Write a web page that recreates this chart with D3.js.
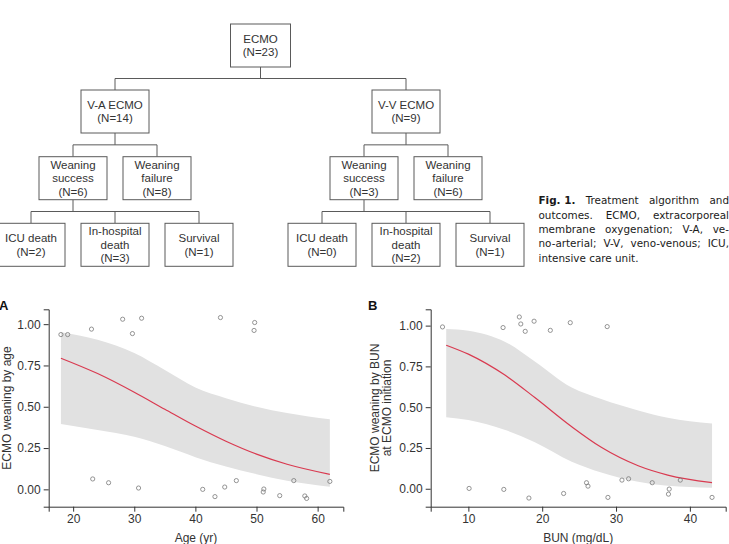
<!DOCTYPE html>
<html>
<head>
<meta charset="utf-8">
<script src="https://cdn.jsdelivr.net/npm/d3@7"></script>
<style>
  body { margin: 0; background: #fff; }
  svg { display: block; }
</style>
</head>
<body>
<svg id="fig" width="729" height="544"></svg>
<script>
// Treatment tree
var totalN = 23;
var modes = ["V-A ECMO", "V-V ECMO"];
var modeN = [14, 9];
var weanLabels = [["Weaning", "success"], ["Weaning", "failure"]];
var weanN = [[6, 8], [3, 6]];
var outcomeLabels = [["ICU death"], ["In-hospital", "death"], ["Survival"]];
var outcomeN = [[2, 3, 1], [0, 2, 1]];

// Caption (justified lines)
var captionLines = [
  [["Fig. 1.", true], ["Treatment", false], ["algorithm", false], ["and", false]],
  [["outcomes.", false], ["ECMO,", false], ["extracorporeal", false]],
  [["membrane", false], ["oxygenation;", false], ["V-A,", false], ["ve-", false]],
  [["no-arterial;", false], ["V-V,", false], ["veno-venous;", false], ["ICU,", false]],
  [["intensive", false], ["care", false], ["unit.", false]]
];

// Panel A: age
var ageTicks = [20, 30, 40, 50, 60];
var ageGrid = [18, 24, 30, 35, 40, 45, 50, 55, 62];
var ageFit  = [0.794, 0.701, 0.588, 0.485, 0.383, 0.291, 0.213, 0.152, 0.091];
var ageLo   = [0.396, 0.360, 0.318, 0.262, 0.195, 0.138, 0.092, 0.052, 0.016];
var ageHi   = [0.951, 0.905, 0.825, 0.722, 0.617, 0.552, 0.500, 0.462, 0.424];
var agePtX = [18.0, 19.1, 23.0, 28.1, 29.7, 31.2, 44.1, 49.7, 49.6,
              23.2, 25.8, 30.7, 41.2, 43.2, 44.8, 46.7, 51.2, 51.1, 53.8, 56.1, 57.9, 58.2, 62.0];
var agePtY = [0.937, 0.937, 0.970, 1.030, 0.943, 1.036, 1.040, 1.010, 0.962,
              0.063, 0.040, 0.008, 0.000, -0.044, 0.014, 0.053, 0.002, -0.016, -0.038, 0.053, -0.040, -0.055, 0.048];

// Panel B: BUN
var bunTicks = [10, 20, 30, 40];
var bunGrid = [7, 10, 15, 19, 24, 28, 33, 37, 43];
var bunFit  = [0.880, 0.825, 0.695, 0.559, 0.380, 0.254, 0.141, 0.084, 0.037];
var bunLo   = [0.439, 0.422, 0.360, 0.285, 0.166, 0.100, 0.043, 0.018, 0.006];
var bunHi   = [0.980, 0.969, 0.900, 0.780, 0.620, 0.550, 0.480, 0.435, 0.400];
var bunPtX = [6.5, 14.7, 16.9, 17.1, 17.7, 18.9, 21.1, 23.8, 28.8,
              10.1, 14.8, 18.2, 22.9, 26.0, 26.2, 28.9, 30.8, 31.7, 34.9, 37.2, 37.1, 38.7, 43.0];
var bunPtY = [0.992, 0.988, 1.053, 1.010, 0.965, 1.027, 0.971, 1.018, 0.994,
              0.002, -0.004, -0.057, -0.029, 0.037, 0.016, -0.053, 0.053, 0.061, 0.037, -0.002, -0.033, 0.053, -0.053];

var probTicks = [0, 0.25, 0.5, 0.75, 1];

var svg = d3.select("#fig");
var sans = "Liberation Sans, Arial, sans-serif";

/* Tree
-------------------------------------------------------------------------------- */
var boxStroke = "#5a5a5a", textCol = "#333";
var boxW = 68, boxH = 43, lh = 13.6;
var levelTop = [24, 90, 156.7, 223.3];
var branchX = [115, 406];
var rootX = (branchX[0] + branchX[1]) / 2;
var tree = svg.append("g");

function line(x1, y1, x2, y2) {
  tree.append("line")
    .attr("x1", x1).attr("y1", y1).attr("x2", x2).attr("y2", y2)
    .attr("stroke", boxStroke).attr("stroke-width", 1);
}

function box(cx, top, w, lines) {
  tree.append("rect")
    .attr("x", cx - w / 2).attr("y", top)
    .attr("width", w).attr("height", boxH)
    .attr("fill", "#fff").attr("stroke", boxStroke).attr("stroke-width", 1);
  var cy = top + boxH / 2;
  var t = tree.append("text")
    .attr("text-anchor", "middle")
    .attr("font-family", sans).attr("font-size", 11.5).attr("fill", textCol);
  lines.forEach(function(s, i) {
    t.append("tspan").attr("x", cx)
      .attr("y", cy - (lines.length - 1) / 2 * lh + 4 + i * lh)
      .text(s);
  });
}

// connectors first
var join1 = (levelTop[0] + boxH + levelTop[1]) / 2;
var join2 = (levelTop[1] + boxH + levelTop[2]) / 2;
var join3 = (levelTop[2] + boxH + levelTop[3]) / 2;
line(rootX, levelTop[0] + boxH, rootX, join1);
line(branchX[0], join1, branchX[1], join1);
branchX.forEach(function(bx, b) {
  var wx = [bx - 42, bx + 42];
  var ox = [bx - 84, bx, bx + 84];
  line(bx, join1, bx, levelTop[1]);
  line(bx, levelTop[1] + boxH, bx, join2);
  line(wx[0], join2, wx[1], join2);
  wx.forEach(function(x) { line(x, join2, x, levelTop[2]); });
  line(wx[0], levelTop[2] + boxH, wx[0], join3);
  line(ox[0], join3, ox[2], join3);
  ox.forEach(function(x) { line(x, join3, x, levelTop[3]); });
});

box(rootX, levelTop[0], 60, ["ECMO", "(N=" + totalN + ")"]);
branchX.forEach(function(bx, b) {
  box(bx, levelTop[1], boxW, [modes[b], "(N=" + modeN[b] + ")"]);
  weanLabels.forEach(function(lab, i) {
    box(bx - 42 + 84 * i, levelTop[2], boxW, lab.concat(["(N=" + weanN[b][i] + ")"]));
  });
  outcomeLabels.forEach(function(lab, i) {
    box(bx - 84 + 84 * i, levelTop[3], boxW, lab.concat(["(N=" + outcomeN[b][i] + ")"]));
  });
});

/* Caption, justified by hand
-------------------------------------------------------------------------------- */
var capX0 = 538.5, capX1 = 729, capY0 = 204.3, capLh = 14.35;
var cap = svg.append("g")
  .attr("font-family", "DejaVu Sans, Verdana, sans-serif")
  .attr("font-size", 10.4).attr("fill", "#1a1a1a");
captionLines.forEach(function(words, li) {
  var nodes = words.map(function(w) {
    return cap.append("text")
      .attr("y", capY0 + li * capLh)
      .attr("font-weight", w[1] ? "bold" : "normal")
      .text(w[0]);
  });
  var widths = nodes.map(function(n) { return n.node().getComputedTextLength(); });
  var sum = d3.sum(widths);
  var last = li === captionLines.length - 1;
  var gap = last ? 3.3 : (capX1 - capX0 - sum) / (words.length - 1);
  var x = capX0;
  nodes.forEach(function(n, i) {
    n.attr("x", x);
    x += widths[i] + gap;
  });
});

/* Logistic panels
-------------------------------------------------------------------------------- */
function panel(opt) {
  var x = d3.scaleLinear().domain(opt.xDomain).range(opt.xRange);
  var y = d3.scaleLinear().domain(opt.yDomain).range([506.7, 309.3]);
  var g = svg.append("g");

  var rows = opt.grid.map(function(v, i) {
    return { x: v, fit: opt.fit[i], lo: opt.lo[i], hi: opt.hi[i] };
  });

  g.append("path")
    .datum(rows)
    .attr("fill", "#e1e1e1")
    .attr("d", d3.area()
      .x(function(d) { return x(d.x); })
      .y0(function(d) { return y(d.lo); })
      .y1(function(d) { return y(d.hi); })
      .curve(d3.curveMonotoneX));

  g.append("path")
    .datum(rows)
    .attr("fill", "none")
    .attr("stroke", "#d93a50")
    .attr("stroke-width", 1.2)
    .attr("d", d3.line()
      .x(function(d) { return x(d.x); })
      .y(function(d) { return y(d.fit); })
      .curve(d3.curveMonotoneX));

  g.selectAll("circle.pt")
    .data(opt.ptX)
    .enter().append("circle")
    .attr("class", "pt")
    .attr("cx", function(d) { return x(d); })
    .attr("cy", function(d, i) { return y(opt.ptY[i]); })
    .attr("r", 2.1)
    .attr("fill", "none")
    .attr("stroke", "#7a7a7a")
    .attr("stroke-width", 0.8);

  var ya = g.append("g")
    .attr("transform", "translate(" + opt.xRange[0] + ",0)")
    .call(d3.axisLeft(y).tickValues(probTicks).tickFormat(d3.format(".2f"))
      .tickSize(5).tickSizeOuter(5).tickPadding(3));
  var xa = g.append("g")
    .attr("transform", "translate(0,506.7)")
    .call(d3.axisBottom(x).tickValues(opt.ticks).tickFormat(d3.format("d"))
      .tickSize(5).tickSizeOuter(5).tickPadding(3));
  [ya, xa].forEach(function(a) {
    a.attr("font-family", sans).attr("font-size", 12);
    a.selectAll("path, line").attr("stroke", "#333");
    a.selectAll("text").attr("fill", "#333");
  });

  g.append("text")
    .attr("x", (opt.xRange[0] + opt.xRange[1]) / 2)
    .attr("y", 542)
    .attr("text-anchor", "middle")
    .attr("font-family", sans).attr("font-size", 12).attr("fill", "#333")
    .text(opt.xTitle);

  var yt = g.append("text")
    .attr("transform", "translate(" + opt.yTitleX + ",408) rotate(-90)")
    .attr("text-anchor", "middle")
    .attr("font-family", sans).attr("font-size", 12).attr("fill", "#333");
  opt.yTitle.forEach(function(s, i) {
    yt.append("tspan").attr("x", 0).attr("y", i * 12).text(s);
  });

  g.append("text")
    .attr("x", opt.tagX).attr("y", 309.5)
    .attr("font-family", sans).attr("font-size", 13).attr("font-weight", "bold")
    .attr("fill", "#111")
    .text(opt.tag);
}

panel({
  tag: "A", tagX: -1,
  xDomain: [16, 64.2], xRange: [48.7, 343.3],
  yDomain: [-0.105, 1.09],
  ticks: ageTicks,
  grid: ageGrid, fit: ageFit, lo: ageLo, hi: ageHi,
  ptX: agePtX, ptY: agePtY,
  xTitle: "Age (yr)",
  yTitle: ["ECMO weaning by age"], yTitleX: 11
});

panel({
  tag: "B", tagX: 368,
  xDomain: [4.9, 44.85], xRange: [430.7, 725.7],
  yDomain: [-0.11, 1.1],
  ticks: bunTicks,
  grid: bunGrid, fit: bunFit, lo: bunLo, hi: bunHi,
  ptX: bunPtX, ptY: bunPtY,
  xTitle: "BUN (mg/dL)",
  yTitle: ["ECMO weaning by BUN", "at ECMO initiation"], yTitleX: 379
});
</script>
</body>
</html>
